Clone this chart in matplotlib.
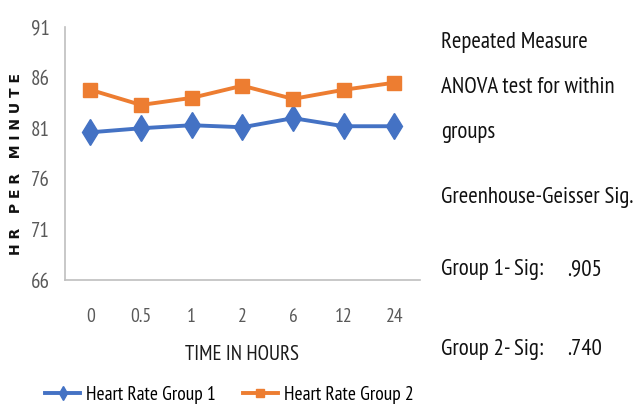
import matplotlib.pyplot as plt
from matplotlib.lines import Line2D

# Mean heart rate at each time point
hours = ['0', '0.5', '1', '2', '6', '12', '24']
group1 = [80.6, 81.0, 81.3, 81.1, 82.0, 81.2, 81.2]
group2 = [84.8, 83.3, 84.0, 85.2, 83.9, 84.8, 85.5]
series_names = ['Heart Rate Group 1', 'Heart Rate Group 2']

narrow = ['PT Sans Narrow', 'DejaVu Sans']
blue = '#4472C4'
orange = '#ED7D31'

fig = plt.figure(figsize=(6.37, 4.09), dpi=100)
ax = fig.add_axes([0.102, 0.315, 0.557, 0.619])

x = range(len(hours))
ax.plot(x, group1, color=blue, lw=2.8, marker='d', ms=13, label=series_names[0])
ax.plot(x, group2, color=orange, lw=2.8, marker='s', ms=9.5, label=series_names[1])

ax.set_xlim(-0.5, len(hours) - 0.5)
ax.set_ylim(66, 91)
ax.set_yticks([66, 71, 76, 81, 86, 91])
ax.set_xticks(list(x))
ax.set_xticklabels(hours)
ax.tick_params(length=0, colors='#595959', labelsize=15)
ax.tick_params(axis='y', pad=11)
ax.tick_params(axis='x', pad=20, labelsize=14)
for lab in ax.get_xticklabels() + ax.get_yticklabels():
    lab.set_family(narrow)

for s in ['top', 'right']:
    ax.spines[s].set_visible(False)
for s in ['left', 'bottom']:
    ax.spines[s].set_color('#BFBFBF')
    ax.spines[s].set_linewidth(1.2)

ax.set_xlabel('TIME IN HOURS', family=narrow, fontsize=15, color='#1a1a1a', labelpad=14)
fig.text(0.025, 0.6, 'H R   P E R   M I N U T E', rotation=90, ha='center', va='center',
         fontsize=10, fontweight='bold', color='#111111')

handles = [Line2D([], [], color=blue, lw=2.8, marker='d', ms=7),
           Line2D([], [], color=orange, lw=2.8, marker='s', ms=6)]
fig.legend(handles, series_names, loc='center',
           bbox_to_anchor=(0.36, 0.034), ncol=2, frameon=False,
           prop={'family': narrow, 'size': 14}, handlelength=1.8,
           handletextpad=0.3, columnspacing=1.4)

notes = [
    (0.105, 'Repeated Measure'),
    (0.215, 'ANOVA test for within'),
    (0.325, 'groups'),
    (0.482, 'Greenhouse-Geisser Sig.'),
    (0.66, 'Group 1- Sig:'),
    (0.855, 'Group 2- Sig:'),
]
for yy, t in notes:
    fig.text(0.692, 1 - yy, t, family=narrow, fontsize=16.5, color='#111111', va='center')

sig_values = ['.905', '.740']
for yy, v in zip([0.66, 0.855], sig_values):
    fig.text(0.89, 1 - yy, v, family=narrow, fontsize=16.5, color='#111111', va='center')

fig.savefig('out.png', dpi=100)
